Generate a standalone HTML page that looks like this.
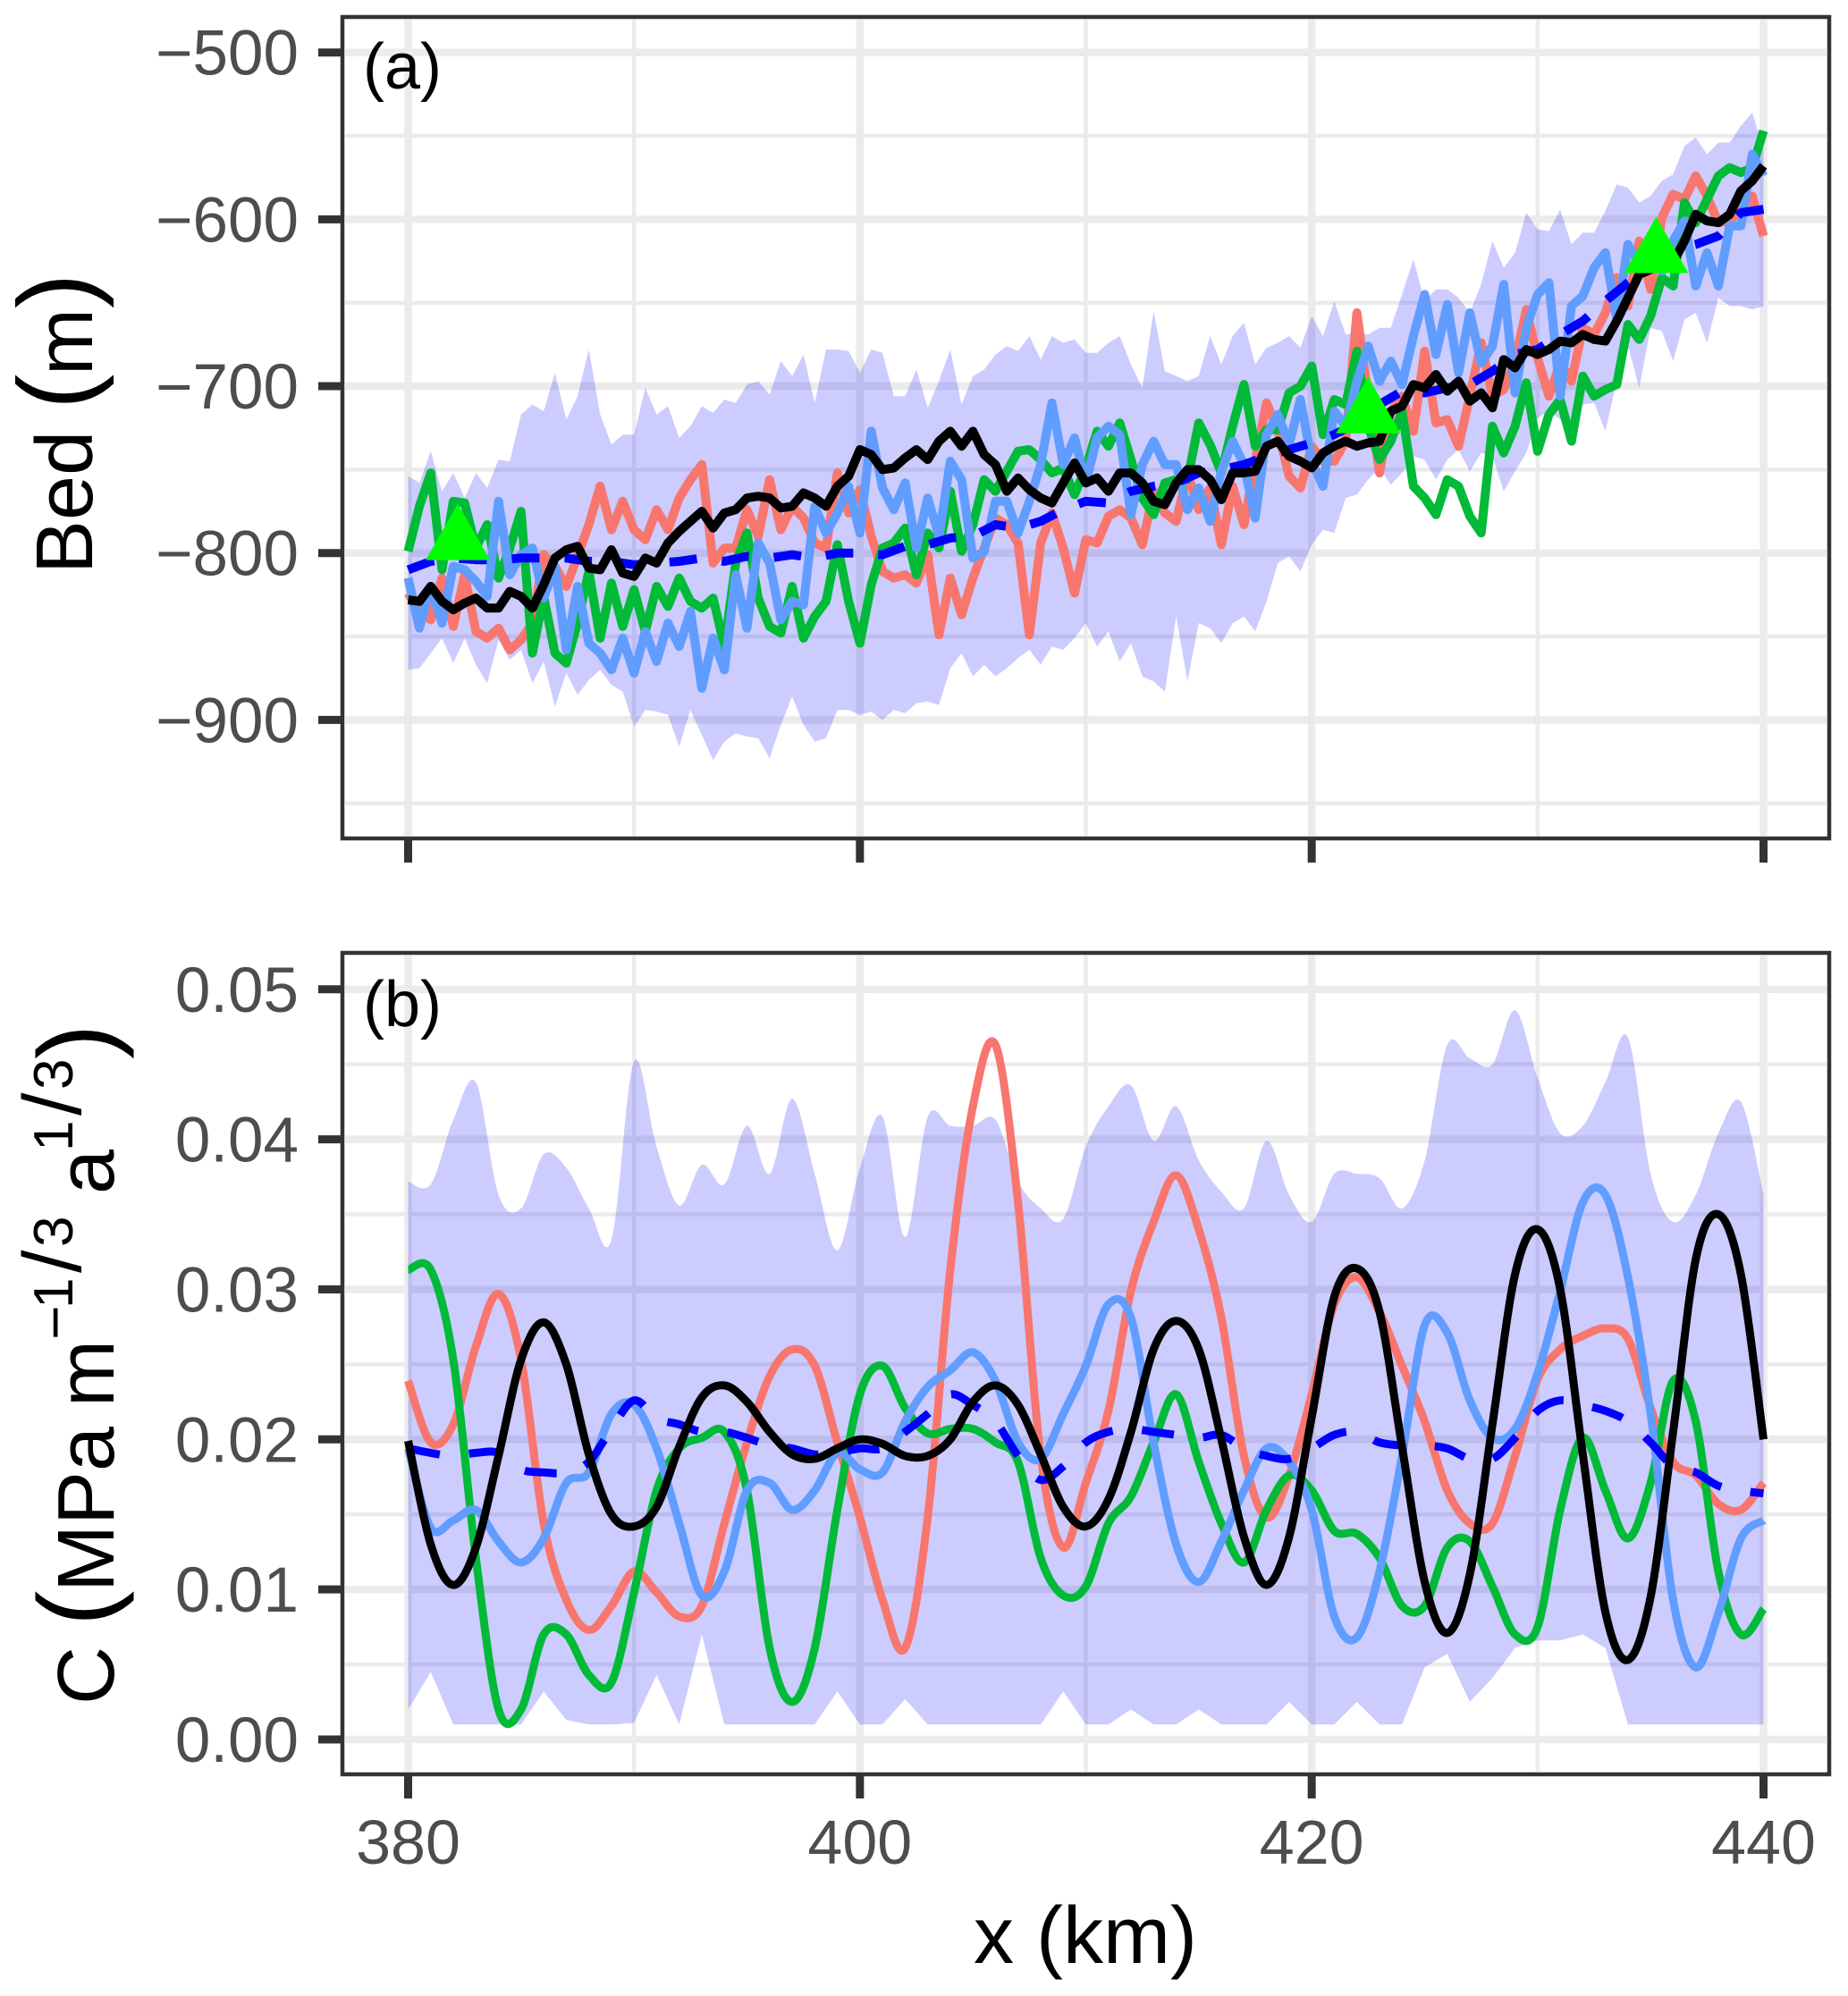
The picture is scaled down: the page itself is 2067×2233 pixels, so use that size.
<!DOCTYPE html>
<html lang="en">
<head>
<meta charset="utf-8">
<title>Bed and C along x</title>
<style>
html,body{margin:0;padding:0;background:#fff}
svg{display:block}
text{font-family:"Liberation Sans",Arial,sans-serif}
</style>
</head>
<body>
<svg id="chart" xmlns="http://www.w3.org/2000/svg" width="2067" height="2233" viewBox="0 0 2067 2233">
  <text x="1089" y="2196" font-size="90" fill="#000">x (km)</text>

  <g>
    <text transform="translate(103,642) rotate(-90)" font-size="90" fill="#000">Bed</text>
    <text transform="translate(102.5,458) rotate(-90)" font-size="118" fill="#000">(</text>
    <text transform="translate(103,420) rotate(-90)" font-size="90" fill="#000">m</text>
    <text transform="translate(102.5,345) rotate(-90)" font-size="118" fill="#000">)</text>
  </g>

  <g>
    <text transform="translate(127,1907) rotate(-90)" font-size="90" fill="#000">C</text>
    <text transform="translate(125,1819) rotate(-90)" font-size="118" fill="#000">(</text>
    <text transform="translate(127,1781) rotate(-90)" font-size="90" fill="#000">MPa</text>
    <text transform="translate(127,1574) rotate(-90)" font-size="90" fill="#000">m</text>
    <text transform="translate(84,1499) rotate(-90)" font-size="66" fill="#000">−</text>
    <text transform="translate(81,1464) rotate(-90)" font-size="62" fill="#000">1</text>
    <text transform="translate(90,1424) rotate(-90)" font-size="92" fill="#000">/</text>
    <text transform="translate(81,1395) rotate(-90)" font-size="62" fill="#000">3</text>
    <text transform="translate(127,1336) rotate(-90)" font-size="90" fill="#000">a</text>
    <text transform="translate(81,1288) rotate(-90)" font-size="62" fill="#000">1</text>
    <text transform="translate(90,1248) rotate(-90)" font-size="92" fill="#000">/</text>
    <text transform="translate(81,1219) rotate(-90)" font-size="62" fill="#000">3</text>
    <text transform="translate(125,1185) rotate(-90)" font-size="118" fill="#000">)</text>
  </g>
</svg>
<script>
const xTickLabels = [380, 400, 420, 440];
const xMinorTicks = [390, 410, 430];
const bedTickLabels = [-500, -600, -700, -800, -900];
const bedMinorTicks = [-550, -650, -750, -850, -950];
const cTickLabels = [0, 0.01, 0.02, 0.03, 0.04, 0.05];
const cMinorTicks = [0.005, 0.015, 0.025, 0.035, 0.045];
const bedStepKm = 0.5;
const cStepKm = 1;
const startKm = 380;
const obsKm = [382.2, 422.5, 435.25];
const obsBed = [-793, -717, -621];

const bedUpper = [-754,-758,-739,-763,-752,-767,-752,-761,-744,-745,-717,-711,-715,-692,-720,-706,-678,-717,-735,-729,-729,-701,-717,-712,-731,-724,-712,-716,-708,-710,-699,-697,-705,-685,-694,-681,-710,-678,-678,-679,-692,
-678,-680,-706,-706,-690,-713,-697,-678,-711,-694,-690,-681,-676,-679,-670,-684,-670,-674,-672,-680,-680,-674,-670,-687,-701,-655,-691,-694,-697,-694,-670,-687,-670,-662,-687,-677,-674,-670,-677,-658,
-670,-649,-669,-668,-669,-665,-665,-645,-624,-649,-642,-642,-647,-656,-639,-613,-629,-620,-596,-606,-607,-594,-615,-608,-608,-595,-579,-581,-590,-586,-577,-573,-556,-551,-561,-554,-554,-544,-536,-558];
const bedLower = [-870,-869,-860,-851,-866,-851,-867,-878,-852,-864,-858,-878,-865,-892,-872,-885,-876,-870,-879,-883,-904,-894,-895,-897,-916,-894,-909,-924,-913,-908,-910,-911,-923,-903,-886,-903,-913,-911,-894,-894,-897,
-895,-900,-894,-896,-890,-889,-891,-869,-860,-874,-867,-874,-869,-863,-858,-867,-856,-858,-851,-842,-856,-847,-865,-854,-874,-877,-883,-838,-877,-842,-845,-854,-842,-838,-847,-829,-806,-802,-811,-795,
-786,-788,-767,-765,-756,-749,-759,-752,-742,-744,-756,-744,-738,-751,-740,-742,-763,-751,-740,-719,-715,-720,-724,-711,-710,-727,-697,-676,-701,-665,-667,-685,-660,-656,-674,-647,-652,-652,-654,-652];
const bedSalmon = [-824,-835,-840,-815,-844,-813,-847,-851,-845,-858,-852,-842,-801,-808,-820,-802,-783,-760,-786,-769,-786,-792,-774,-786,-767,-756,-747,-806,-797,-797,-774,-790,-756,-786,-772,-779,-794,-797,-752,-776,-762,
-790,-811,-815,-813,-818,-801,-849,-815,-837,-815,-797,-779,-783,-794,-849,-794,-776,-797,-824,-792,-794,-778,-774,-779,-795,-763,-776,-781,-752,-774,-761,-795,-760,-783,-745,-710,-726,-754,-761,-736,
-745,-745,-733,-656,-706,-752,-715,-706,-727,-679,-722,-720,-736,-706,-674,-706,-702,-685,-654,-683,-706,-686,-697,-665,-669,-656,-635,-652,-613,-642,-599,-585,-588,-574,-586,-602,-601,-594,-586,-610];
const bedGreen = [-799,-772,-752,-810,-769,-770,-797,-783,-815,-797,-775,-860,-826,-860,-866,-842,-811,-851,-818,-844,-822,-847,-820,-832,-815,-829,-833,-827,-856,-806,-788,-827,-844,-848,-820,-851,-838,-829,-795,-829,-854,
-819,-797,-794,-785,-813,-788,-797,-763,-799,-783,-756,-763,-751,-739,-738,-744,-752,-749,-765,-749,-727,-736,-722,-744,-767,-777,-758,-756,-756,-722,-735,-752,-724,-699,-736,-726,-726,-704,-700,-688,
-729,-708,-711,-679,-724,-744,-733,-715,-760,-767,-777,-756,-760,-778,-788,-724,-740,-724,-698,-739,-717,-708,-733,-694,-706,-702,-699,-663,-672,-658,-635,-640,-590,-602,-588,-574,-569,-572,-569,-547];
const bedBlue = [-815,-845,-820,-842,-808,-810,-817,-826,-769,-813,-801,-797,-827,-808,-858,-820,-854,-860,-870,-851,-872,-847,-865,-842,-856,-835,-881,-851,-870,-813,-845,-794,-806,-840,-829,-831,-772,-788,-776,-760,-788,
-727,-761,-774,-758,-797,-767,-790,-745,-756,-803,-799,-769,-769,-788,-769,-747,-710,-747,-731,-758,-731,-724,-729,-777,-747,-733,-747,-747,-774,-761,-781,-751,-733,-747,-779,-729,-717,-735,-708,-745,
-760,-715,-724,-697,-676,-697,-685,-699,-670,-645,-681,-651,-692,-656,-686,-676,-639,-704,-665,-645,-638,-706,-652,-646,-629,-620,-660,-615,-627,-613,-631,-613,-601,-640,-620,-640,-604,-604,-561,-574];
const bedBlack = [-828,-829,-820,-829,-834,-830,-827,-833,-833,-823,-826,-833,-819,-803,-798,-796,-809,-810,-798,-812,-814,-803,-806,-794,-787,-781,-775,-785,-776,-774,-767,-766,-767,-773,-772,-764,-767,-772,-760,-754,-738,
-741,-750,-749,-743,-738,-744,-733,-727,-736,-727,-741,-747,-763,-755,-762,-767,-770,-758,-746,-758,-755,-763,-752,-752,-758,-769,-771,-758,-750,-750,-756,-768,-752,-752,-751,-736,-733,-742,-745,-749,
-740,-736,-733,-736,-734,-733,-715,-712,-699,-701,-693,-703,-697,-709,-704,-713,-684,-689,-678,-681,-678,-673,-674,-669,-672,-673,-661,-647,-633,-630,-628,-626,-613,-597,-601,-602,-597,-583,-577,-568];
const bedMean = [-810,-805,-803,-804,-804,-803,-803,-803,-805,-805,-807,-806,-805,-803,-805,-802,-803,-801,-803,-800,-800,-801,-796,-795,-791,-790,-783,-785,-781,-774,-769,-770,-763,-760,-758,-752,-750,-747,-742,-738,-734,-729,-722,-711,-703,-704,-701,-699,-691,-681,-678,-669,-661,-649,-638,-628,-618,-615,-610,-596,-594];

const cUpper = [.0372,.0370,.0413,.0438,.0363,.0354,.0390,.0381,.0354,.0333,.0452,.0395,.0356,.0383,.0370,.0409,.0377,.0427,.0377,.0326,.0381,.0415,.0335,.0415,.0409,.0409,.0413,.0372,.0354,.0347,.0395,.0422,.0436,.0399,.0422,.0386,.0365,.0354,.0399,.0363,.0345,.0377,.0377,.0374,.0354,.0386,.0463,.0454,.0450,.0486,.0441,.0404,.0409,.0438,.0468,.0377,.0345,.0363,.0404,.0425,.0363];
const cLower = [.0020,.0045,.0010,.0010,.0010,.0010,.0032,.0013,.0010,.0010,.0011,.0043,.0010,.0070,.0010,.0010,.0010,.0010,.0010,.0032,.0010,.0010,.0027,.0010,.0010,.0010,.0010,.0010,.0010,.0032,.0010,.0010,.0020,.0010,.0010,.0020,.0010,.0010,.0010,.0025,.0010,.0010,.0025,.0010,.0010,.0048,.0057,.0025,.0041,.0061,.0066,.0066,.0070,.0061,.0010,.0010,.0010,.0010,.0010,.0010,.0010];
const cSalmon = [.0239,.0198,.0210,.0262,.0297,.0253,.0144,.0093,.0073,.0089,.0112,.0098,.0082,.0089,.0144,.0198,.0242,.0260,.0249,.0198,.0148,.0093,.0061,.0148,.0313,.0422,.0463,.0358,.0189,.0128,.0171,.0219,.0299,.0345,.0376,.0340,.0281,.0189,.0148,.0176,.0230,.0290,.0308,.0285,.0249,.0212,.0166,.0144,.0144,.0189,.0240,.0260,.0269,.0274,.0267,.0221,.0185,.0176,.0157,.0153,.0171];
const cGreen = [.0313,.0313,.0253,.0121,.0020,.0020,.0070,.0070,.0043,.0038,.0098,.0166,.0194,.0201,.0205,.0166,.0061,.0025,.0061,.0153,.0230,.0249,.0221,.0204,.0207,.0207,.0198,.0185,.0121,.0096,.0102,.0144,.0162,.0198,.0230,.0185,.0144,.0118,.0153,.0176,.0166,.0139,.0137,.0121,.0089,.0089,.0128,.0132,.0102,.0070,.0075,.0153,.0201,.0166,.0134,.0171,.0239,.0212,.0112,.0070,.0087];
const cBlue = [.0194,.0141,.0146,.0153,.0132,.0118,.0134,.0171,.0178,.0217,.0223,.0194,.0144,.0096,.0112,.0166,.0171,.0153,.0166,.0191,.0180,.0178,.0212,.0235,.0246,.0258,.0239,.0198,.0187,.0217,.0249,.0290,.0281,.0198,.0130,.0105,.0132,.0166,.0194,.0185,.0153,.0082,.0068,.0112,.0189,.0276,.0271,.0226,.0201,.0207,.0244,.0299,.0358,.0363,.0308,.0217,.0093,.0048,.0084,.0134,.0146];
const cBlack = [.0199,.0130,.0103,.0128,.0189,.0253,.0278,.0250,.0190,.0150,.0142,.0155,.0195,.0228,.0236,.0225,.0205,.0190,.0187,.0194,.0200,.0197,.0189,.0189,.0200,.0225,.0236,.0223,.0190,.0155,.0142,.0160,.0205,.0260,.0279,.0260,.0200,.0135,.0103,.0135,.0215,.0295,.0314,.0285,.0195,.0105,.0071,.0110,.0210,.0310,.0340,.0300,.0190,.0085,.0053,.0095,.0205,.0320,.0350,.0310,.0200];
const cMean = [.0194,.0191,.0189,.0191,.0191,.0180,.0178,.0178,.0185,.0207,.0226,.0214,.0210,.0205,.0205,.0201,.0196,.0194,.0190,.0191,.0194,.0194,.0205,.0217,.0230,.0223,.0212,.0189,.0173,.0182,.0198,.0205,.0207,.0205,.0203,.0201,.0203,.0194,.0189,.0187,.0194,.0203,.0205,.0198,.0196,.0196,.0194,.0187,.0187,.0201,.0219,.0226,.0223,.0219,.0212,.0198,.0182,.0178,.0169,.0166,.0164];

const svg = document.getElementById('chart');
const NS = 'http://www.w3.org/2000/svg';
function make(tag, attrs, parent, label) {
  const el = document.createElementNS(NS, tag);
  for (const k in attrs) el.setAttribute(k, attrs[k]);
  if (label !== undefined) el.textContent = label;
  (parent || svg).appendChild(el);
  return el;
}
const xScale = km => 456.5 + (km - 380) * (1516 / 60);
const bedScale = v => 618.7 - (v + 800) * 1.8667;
const cScale = v => 1946 - v * 16785;
const panelA = {l: 383, r: 2046, t: 19, b: 938};
const panelB = {l: 383, r: 2046, t: 1066, b: 1985};

function linePath(vals, step, yf) {
  return vals.map((v, i) => (i ? 'L' : 'M') + xScale(startKm + i * step).toFixed(1) + ' ' + yf(v).toFixed(1)).join('');
}
function reverseLine(vals, step, yf) {
  return vals.map((v, i) => 'L' + xScale(startKm + i * step).toFixed(1) + ' ' + yf(v).toFixed(1)).reverse().join('');
}
function smoothPath(vals, step, yf) {
  const pts = vals.map((v, i) => [xScale(startKm + i * step), yf(v)]);
  let d = 'M' + pts[0][0].toFixed(1) + ' ' + pts[0][1].toFixed(1);
  for (let i = 0; i < pts.length - 1; i++) {
    const p0 = pts[Math.max(i - 1, 0)], p1 = pts[i], p2 = pts[i + 1], p3 = pts[Math.min(i + 2, pts.length - 1)];
    const c1x = p1[0] + (p2[0] - p0[0]) / 6, c1y = p1[1] + (p2[1] - p0[1]) / 6;
    const c2x = p2[0] - (p3[0] - p1[0]) / 6, c2y = p2[1] - (p3[1] - p1[1]) / 6;
    d += 'C' + c1x.toFixed(1) + ' ' + c1y.toFixed(1) + ' ' + c2x.toFixed(1) + ' ' + c2y.toFixed(1) + ' ' + p2[0].toFixed(1) + ' ' + p2[1].toFixed(1);
  }
  return d;
}

function drawGrid(panel, yf, majors, minors, prefix) {
  const inset = 3;
  minors.forEach(v => {
    const el = make('line', {x1: panel.l + inset, x2: panel.r - inset, y1: yf(v), y2: yf(v), stroke: '#EBEBEB', 'stroke-width': 4.5});
    
    
  });
  xMinorTicks.forEach(v => {
    const el = make('line', {x1: xScale(v), x2: xScale(v), y1: panel.t + inset, y2: panel.b - inset, stroke: '#EBEBEB', 'stroke-width': 4.5});
    
    
  });
  majors.forEach(v => {
    const el = make('line', {x1: panel.l + inset, x2: panel.r - inset, y1: yf(v), y2: yf(v), stroke: '#EBEBEB', 'stroke-width': 8.5});
    
    
  });
  xTickLabels.forEach(v => {
    const el = make('line', {x1: xScale(v), x2: xScale(v), y1: panel.t + inset, y2: panel.b - inset, stroke: '#EBEBEB', 'stroke-width': 8.5});
    
    
  });
}
function drawFrame(panel, yf, majors, prefix, fmt, showX) {
  const frame = make('rect', {x: panel.l, y: panel.t, width: panel.r - panel.l, height: panel.b - panel.t, fill: 'none', stroke: '#333333', 'stroke-width': 4.5});
  
  
  majors.forEach(v => {
    const tick = make('line', {x1: panel.l - 27, x2: panel.l - 2, y1: yf(v), y2: yf(v), stroke: '#333333', 'stroke-width': 9});
    
    
    const label = make('text', {x: 334, y: yf(v) + 25, 'text-anchor': 'end', 'font-size': 71, fill: '#4D4D4D'}, svg, fmt(v));
    
    
  });
  xTickLabels.forEach(v => {
    const tick = make('line', {x1: xScale(v), x2: xScale(v), y1: panel.b + 2, y2: panel.b + 27, stroke: '#333333', 'stroke-width': 9});
    
    
    if (showX) {
      const label = make('text', {x: xScale(v), y: 2085, 'text-anchor': 'middle', 'font-size': 70, fill: '#4D4D4D'}, svg, String(v));
      
      
    }
  });
}

/* Panel (a) */
drawGrid(panelA, bedScale, bedTickLabels, bedMinorTicks, 'bed');
const bedBand = make('path', {
  d: linePath(bedUpper, bedStepKm, bedScale) + reverseLine(bedLower, bedStepKm, bedScale) + 'Z',
  fill: 'rgba(0,0,255,0.2)', stroke: 'none'
});



const bedStyle = {fill: 'none', 'stroke-width': 10, 'stroke-linejoin': 'round', 'stroke-linecap': 'butt'};
const cStyle = {fill: 'none', 'stroke-width': 9, 'stroke-linejoin': 'round', 'stroke-linecap': 'butt'};
const bedS = make('path', Object.assign({d: linePath(bedSalmon, bedStepKm, bedScale), stroke: '#F8766D'}, bedStyle));


const bedG = make('path', Object.assign({d: linePath(bedGreen, bedStepKm, bedScale), stroke: '#00BA38'}, bedStyle));


const bedB = make('path', Object.assign({d: linePath(bedBlue, bedStepKm, bedScale), stroke: '#619CFF'}, bedStyle));


const bedM = make('path', Object.assign({}, bedStyle, {d: linePath(bedMean, cStepKm, bedScale), stroke: '#0000FF', 'stroke-dasharray': '31 28'}));


const bedK = make('path', Object.assign({d: linePath(bedBlack, bedStepKm, bedScale), stroke: '#000000'}, bedStyle));


obsKm.forEach((km, i) => {
  const x = xScale(km), y = bedScale(obsBed[i]);
  const tri = make('polygon', {points: [[x, y - 42], [x + 36, y + 21], [x - 36, y + 21]].map(p => p.join(',')).join(' '), fill: '#00FF00'});
  
  
});
drawFrame(panelA, bedScale, bedTickLabels, 'bed', v => '\u2212' + Math.abs(v), false);
const labelA = make('text', {x: 406, y: 99, 'font-size': 72, fill: '#000'}, svg, '(a)');



/* Panel (b) */
drawGrid(panelB, cScale, cTickLabels, cMinorTicks, 'c');
const cBand = make('path', {
  d: smoothPath(cUpper, cStepKm, cScale) + reverseLine(cLower, cStepKm, cScale) + 'Z',
  fill: 'rgba(0,0,255,0.2)', stroke: 'none'
});


const cS = make('path', Object.assign({d: smoothPath(cSalmon, cStepKm, cScale), stroke: '#F8766D'}, cStyle));


const cG = make('path', Object.assign({d: smoothPath(cGreen, cStepKm, cScale), stroke: '#00BA38'}, cStyle));


const cB = make('path', Object.assign({d: smoothPath(cBlue, cStepKm, cScale), stroke: '#619CFF'}, cStyle));


const cM = make('path', Object.assign({}, cStyle, {d: smoothPath(cMean, cStepKm, cScale), stroke: '#0000FF', 'stroke-dasharray': '36 33'}));


const cK = make('path', Object.assign({d: smoothPath(cBlack, cStepKm, cScale), stroke: '#000000'}, cStyle));


drawFrame(panelB, cScale, cTickLabels, 'c', v => v.toFixed(2), true);
const labelB = make('text', {x: 406, y: 1148, 'font-size': 72, fill: '#000'}, svg, '(b)');


</script>
</body>
</html>
